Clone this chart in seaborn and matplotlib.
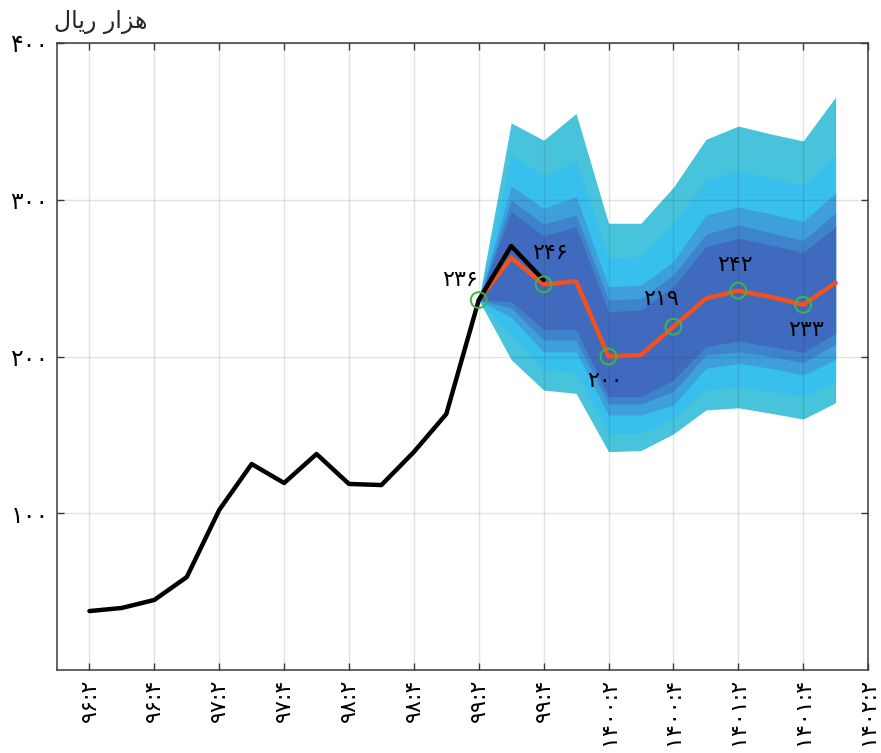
import numpy as np
import pandas as pd
import matplotlib
matplotlib.use("Agg")
import matplotlib.pyplot as plt
import seaborn as sns

# Quarterly observations (index 0 = 96:2)
actual_q = list(range(0, 15))
actual = [37.6, 39.6, 44.7, 59.3, 102.1, 131.4, 119.3, 137.8, 118.7, 118.0,
          139.1, 163.3, 236.0, 270.5, 248.8]

# Forecast path and fan bands (index 12 .. 23)
fc_q = list(range(12, 24))
median = [236, 263, 246, 248, 200, 201, 219, 237, 242, 238, 233, 247]

outer_hi = [236, 349, 338, 355, 285, 285, 308, 338.5, 347, 342, 337.5, 365.5]
sky_hi = [236, 328.5, 315, 324.7, 262.6, 264, 284, 312.6, 318.5, 313.7, 309.4, 329.2]
mid_hi = [236, 308.8, 294.5, 302, 244.5, 245.6, 260.5, 290.3, 295.3, 291, 286, 304.5]
deep_hi = [236, 299.8, 284.5, 290.3, 236, 237.1, 252, 278, 284, 279, 274, 291.7]
core_hi = [236, 292.4, 276.9, 282.8, 228.6, 229.7, 244.5, 270, 275.4, 271, 266.5, 282.8]

core_lo = [236, 235, 217.3, 217.3, 174.4, 174.4, 185, 206.3, 210, 206.3, 202.6, 214.8]
deep_lo = [236, 231, 210.5, 210.5, 169.7, 169.7, 177.6, 201, 203, 200, 196, 208]
mid_lo = [236, 225, 203, 203, 162.7, 162.7, 169, 192.5, 195.6, 192.5, 188.2, 198.2]
sky_lo = [236, 213, 191.4, 190, 151, 151, 160.6, 178.6, 180.6, 177.6, 174.4, 184]
outer_lo = [236, 198, 178.6, 176.5, 139.3, 140, 150.6, 165.9, 167.3, 163.8, 160.1, 170.5]

# Labelled forecast points
mark_q = [12, 14, 16, 18, 20, 22]
mark_v = [236, 246, 200, 219, 242, 233]
mark_txt = ["۲۳۶", "۲۴۶", "۲۰۰", "۲۱۹", "۲۴۲", "۲۳۳"]
mark_off = [(-19, 20), (6, 31), (-4, -24), (-12, 28), (-3, 26), (3, -25)]

# Axis labels
x_ticks = list(range(0, 25, 2))
x_labels = ["۹۶:۲", "۹۶:۴", "۹۷:۲", "۹۷:۴", "۹۸:۲", "۹۸:۴", "۹۹:۲", "۹۹:۴",
            "۱۴۰۰:۲", "۱۴۰۰:۴", "۱۴۰۱:۲", "۱۴۰۱:۴", "۱۴۰۲:۲"]
y_ticks = [100, 200, 300, 400]
y_labels = ["۱۰۰", "۲۰۰", "۳۰۰", "۴۰۰"]
# "هزار ریال" written in presentation forms, visual order
unit_label = "\uFEDD\uFE8E\uFEF3\uFEAD \uFEAD\uFE8D\uFEB0\uFEEB"

sns.set_theme(style="white")
plt.rcParams["font.family"] = ["DejaVu Sans"]

fig = plt.figure(figsize=(8.81, 7.53), dpi=100)
ax = fig.add_axes([0.0647, 0.1102, 0.9206, 0.8327])

band_colors = ["#47C3DB", "#37BFEE", "#3E9FDB", "#3D84CD", "#3F6ABE"]
bands = [(outer_lo, outer_hi), (sky_lo, sky_hi), (mid_lo, mid_hi),
         (deep_lo, deep_hi), (core_lo, core_hi)]
for (lo, hi), col in zip(bands, band_colors):
    ax.fill_between(fc_q, lo, hi, color=col, lw=0, zorder=1)

df_fc = pd.DataFrame({"q": fc_q, "v": median})
df_act = pd.DataFrame({"q": actual_q, "v": actual})
sns.lineplot(data=df_fc, x="q", y="v", ax=ax, color="#F2501F", lw=3.2, zorder=4)
sns.lineplot(data=df_act, x="q", y="v", ax=ax, color="black", lw=3.2, zorder=5)

df_mk = pd.DataFrame({"q": mark_q, "v": mark_v})
sns.scatterplot(data=df_mk, x="q", y="v", ax=ax, s=130, facecolor="none",
                edgecolor="#3DB54A", linewidth=1.4, zorder=6)

for q, v, t, (dx, dy) in zip(mark_q, mark_v, mark_txt, mark_off):
    ax.annotate(t, (q, v), xytext=(dx, dy), textcoords="offset pixels",
                ha="center", va="center", fontsize=16, color="black", zorder=7)

ax.set_xlim(-1, 24)
ax.set_ylim(0, 400)
ax.set_xticks(x_ticks)
ax.set_xticklabels(x_labels, rotation=90, fontsize=16)
ax.set_yticks(y_ticks)
ax.set_yticklabels(y_labels, fontsize=17)
ax.set_xlabel("")
ax.set_ylabel("")

ax.set_axisbelow(False)
ax.grid(True, color=(0.15, 0.15, 0.15), alpha=0.13, lw=1, zorder=2)
for s in ax.spines.values():
    s.set_color("#3A3A3A")
    s.set_linewidth(1.1)
    s.set_visible(True)
ax.tick_params(axis="both", direction="in", length=5, width=1, color="#3A3A3A",
               top=True, right=True, bottom=True, left=True, pad=6, labelcolor="black")

fig.text(0.061, 0.955, unit_label, fontsize=17, ha="left", va="bottom")

fig.savefig("out.png", dpi=100, facecolor="white")
